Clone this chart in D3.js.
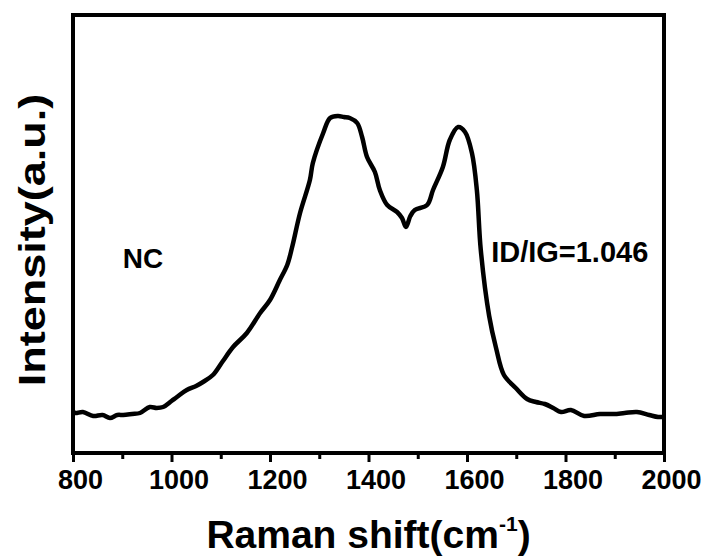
<!DOCTYPE html>
<html><head><meta charset="utf-8">
<script src="https://cdn.jsdelivr.net/npm/d3@7"></script>
<style>body{margin:0;background:#fff;} text{font-family:"Liberation Sans",Arial,sans-serif;font-weight:bold;fill:#000;}</style>
</head><body><svg id="c" width="712" height="560"></svg>
<script>
const ramanShift = [800,804,820,841,860,875,890,902,920,936,956,970,983,1000,1011,1031,1050,1064,1084,1103,1125,1153,1180,1200,1220,1235,1245,1261,1281,1287,1308,1322,1338,1350,1362,1377,1387,1397,1413,1423,1438,1458,1468,1476,1485,1494,1519,1531,1551,1565,1582,1596,1610,1620,1628,1645,1659,1675,1699,1722,1740,1758,1775,1791,1811,1838,1870,1898,1920,1945,1970,1988,2000];
const intensity = [42,40,41,37,38,35,38,38,39,40,46,45,46,52,56,63,67,71,78,91,106,120,140,153,173,188,206,240,273,290,320,335,337,336,335,330,316,296,281,263,248,241,235,226,237,243,248,263,286,313,326,321,300,263,203,137,105,78,65,54,51,49,45,41,43,37,39,39,40,41,38,36,36];
const majorTicks = [800,1000,1200,1400,1600,1800,2000];
const minorTicks = [900,1100,1300,1500,1700,1900];
const xTitle = "Raman shift(cm";
const xTitleSup = "-1";
const yTitle = "Intensity(a.u.)";
const annotations = [{text:"NC", x:901, y:185, size:28},{text:"ID/IG=1.046", x:1649, y:191, size:29}];

const svg = d3.select("#c");
const L=73, R=664, T=15, B=453;
const x = d3.scaleLinear().domain([800,2000]).range([L,R]);
const y = d3.scaleLinear().domain([0,438]).range([B,T]);

const line = d3.line().x((d,i)=>x(ramanShift[i])).y(d=>y(d)).curve(d3.curveCatmullRom.alpha(0.5));
svg.append("path").datum(intensity).attr("d",line).attr("fill","none").attr("stroke","#000").attr("stroke-width",4.5).attr("stroke-linejoin","round");

svg.append("rect").attr("x",L).attr("y",T).attr("width",R-L).attr("height",B-T).attr("fill","none").attr("stroke","#000").attr("stroke-width",4);

const gx = svg.append("g").attr("transform",`translate(0,${B})`);
gx.call(d3.axisBottom(x).tickValues(majorTicks).tickSize(9).tickFormat(d3.format("d")).tickPadding(8));
gx.select(".domain").remove();
gx.selectAll(".tick line").attr("stroke","#000").attr("stroke-width",3);
gx.selectAll(".tick text").attr("font-size",27).attr("dx",7).attr("dy","0.7em").style("font-family",'"Liberation Sans",Arial,sans-serif').style("font-weight","bold");
const gm = svg.append("g").attr("transform",`translate(0,${B})`);
gm.call(d3.axisBottom(x).tickValues(minorTicks).tickSize(6).tickFormat(""));
gm.select(".domain").remove();
gm.selectAll(".tick line").attr("stroke","#000").attr("stroke-width",3);

const xt = svg.append("text").attr("x",(L+R)/2).attr("y",548).attr("text-anchor","middle").attr("font-size",39);
xt.append("tspan").text(xTitle);
xt.append("tspan").text(xTitleSup).attr("font-size",21).attr("dy",-17);
xt.append("tspan").text(")").attr("dy",17);

svg.append("text").attr("transform",`translate(45,${(T+B)/2+6}) rotate(-90) scale(1.25,1)`).attr("text-anchor","middle").attr("font-size",36).text(yTitle);

annotations.forEach(a=>{
  svg.append("text").attr("x",x(a.x)).attr("y",y(a.y)).attr("font-size",a.size).text(a.text);
});
</script></body></html>
